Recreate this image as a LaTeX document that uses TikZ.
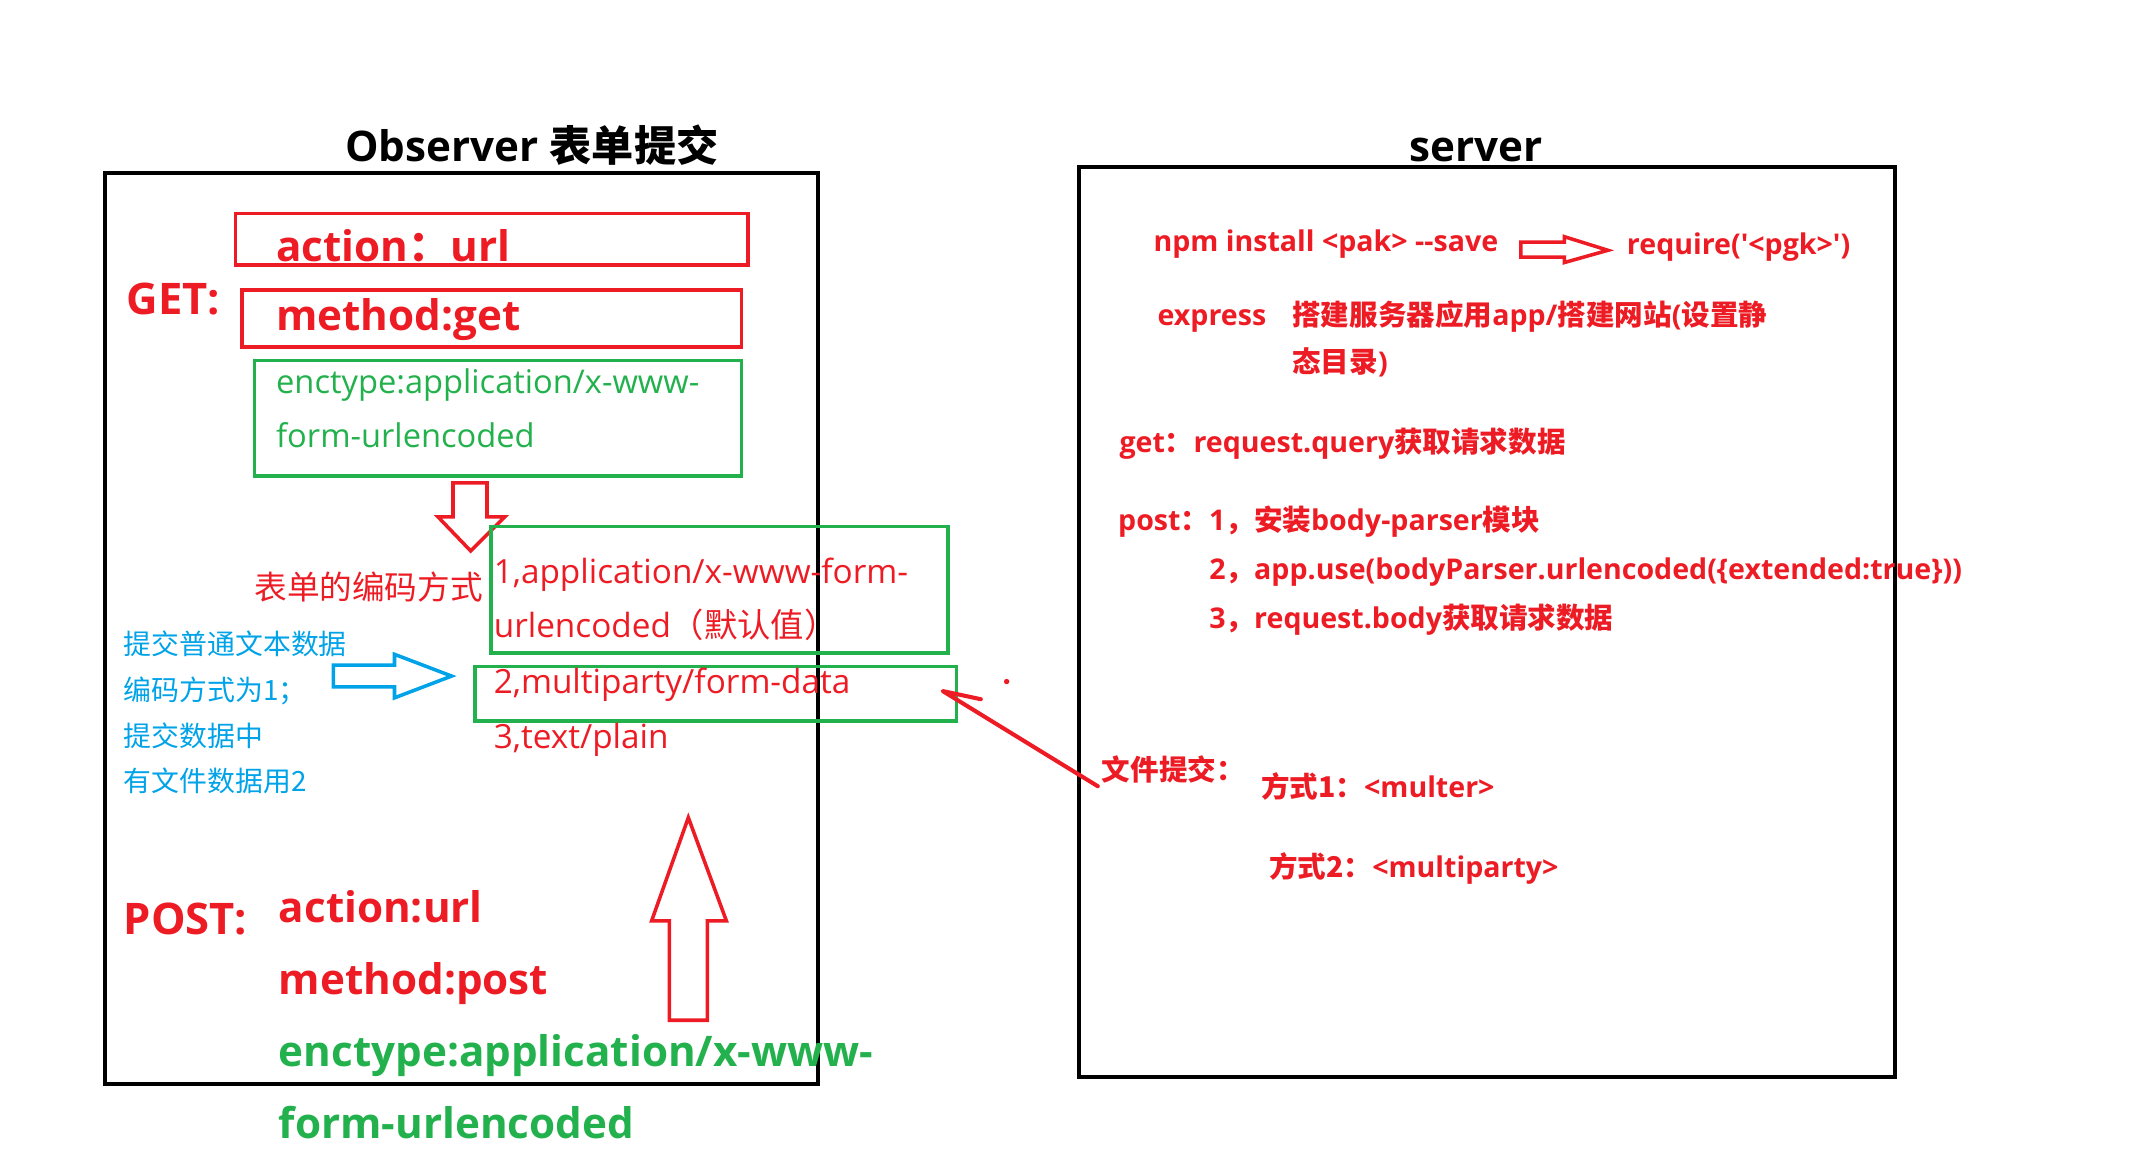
\documentclass[tikz,border=0pt]{standalone}
\usepackage{fontspec}
\newfontfamily\lat{Open Sans}
\newfontfamily\cjk{Noto Sans CJK SC}
\newcommand\zh[1]{{\cjk #1}}
\newcommand\fsz[1]{\fontsize{#1}{#1}\selectfont}
\definecolor{pred}{HTML}{ED1C24}
\definecolor{pgreen}{HTML}{22B14C}
\definecolor{pblue}{HTML}{00A2E8}
\begin{document}
\begin{tikzpicture}[x=1pt,y=-1pt,
  every node/.style={font=\lat},
  lbl/.style={inner sep=0pt, outer sep=0pt, anchor=base west},
  box/.style={draw, anchor=north west, inner sep=0pt, outer sep=0pt, line width=2.6pt},
  bigred/.style={lbl, text=pred, font=\lat\bfseries\fsz{31}},
  biggreen/.style={lbl, text=pgreen, font=\lat\bfseries\fsz{31}},
  midred/.style={lbl, text=pred, font=\lat\fsz{24.5}},
  midgreen/.style={lbl, text=pgreen, font=\lat\fsz{24}},
  bluetxt/.style={lbl, text=pblue, font=\cjk\fsz{20.5}},
  srvtxt/.style={lbl, text=pred, font=\lat\bfseries\fsz{21}},
  blockarrow/.style={line width=2.6pt, line join=miter}
]
\useasboundingbox (0,0) rectangle (1568,858);

% titles
\node[lbl, anchor=base, font=\lat\bfseries\fsz{31}] (obst) at (391,119) {Observer \zh{表单提交}};
\node[lbl, anchor=base, font=\lat\bfseries\fsz{31}] (servt) at (1085,119) {server};

% main frames
\node[box, line width=3pt, minimum width=524pt, minimum height=670pt] (obs) at (77,127) {};
\node[box, line width=3pt, minimum width=600pt, minimum height=669pt] (srv) at (793,123) {};

% GET part
\node[lbl, text=pred, font=\lat\bfseries\fsz{32}] (get) at (93,231) {GET:};
\node[box, draw=pred, minimum width=377pt, minimum height=38pt] (ba) at (173,157) {};
\node[bigred] (bat) at (203,192) {action\zh{：}url};
\node[box, draw=pred, minimum width=367pt, minimum height=42pt] (bb) at (178,213) {};
\node[bigred] (bbt) at (203,243) {method:get};
\node[box, draw=pgreen, minimum width=358pt, minimum height=85pt] (bc) at (187,265) {};
\node[midgreen] (bct1) at (203,289) {enctype:application/x-www-};
\node[midgreen] (bct2) at (203,329) {form-urlencoded};

% down arrow
\draw[pred, blockarrow] (333,355) -- (358,355) -- (358,380) -- (371,380) -- (346,405) -- (322,380) -- (333,380) -- cycle;

% encodings
\node[lbl, text=pred, font=\cjk\fsz{24}] (enc) at (187,441) {表单的编码方式};
\node[box, draw=pgreen, minimum width=336pt, minimum height=93pt] (bd) at (361,387) {};
\node[midred] (bdt1) at (363,429) {1,application/x-www-form-};
\node[midred] (bdt2) at (363,469) {urlencoded\zh{（默认值）}};
\node[box, draw=pgreen, minimum width=354pt, minimum height=40pt] (be) at (349,490) {};
\node[midred] (bet) at (363,510) {2,multiparty/form-data};
\node[midred] (bft) at (363,550) {3,text/plain};

% blue notes
\node[bluetxt] (n1) at (91,481) {提交普通文本数据};
\node[bluetxt] (n2) at (91,515) {编码方式为1；};
\node[bluetxt] (n3) at (91,549) {提交数据中};
\node[bluetxt] (n4) at (91,582) {有文件数据用2};
\draw[pblue, blockarrow] (245,489) -- (290,489) -- (290,481) -- (332,497) -- (290,513) -- (290,505) -- (245,505) -- cycle;

% up arrow
\draw[pred, blockarrow] (492,750) -- (520,750) -- (520,677) -- (534,677) -- (506,601) -- (479,677) -- (492,677) -- cycle;

% POST part
\node[lbl, text=pred, font=\lat\bfseries\fsz{32}] (post) at (91,687) {POST:};
\node[bigred] (pa) at (205,678) {action:url};
\node[bigred] (pm) at (205,731) {method:post};
\node[biggreen] (pe1) at (205,784) {enctype:application/x-www-};
\node[biggreen] (pe2) at (205,837) {form-urlencoded};

% server side
\node[srvtxt] (npm) at (848,185) {npm install <pak> --save};
\draw[pred, blockarrow] (1118,178) -- (1150,178) -- (1150,174) -- (1182,184) -- (1150,193) -- (1150,189) -- (1118,189) -- cycle;
\node[srvtxt] (req) at (1196,187) {require('<pgk>')};
\node[srvtxt] (exp) at (851,239) {express};
\node[srvtxt] (expd1) at (950,239) {\zh{搭建服务器应用}app/\zh{搭建网站}(\zh{设置静}};
\node[srvtxt] (expd2) at (950,274) {\zh{态目录})};
\node[srvtxt] (sget) at (823,333) {get\zh{：}request.query\zh{获取请求数据}};
\node[srvtxt] (spost1) at (822,390) {post\zh{：}1\zh{，安装}body-parser\zh{模块}};
\node[srvtxt] (spost2) at (889,426) {2\zh{，}app.use(bodyParser.urlencoded(\{extended:true\}))};
\node[srvtxt] (spost3) at (889,462) {3\zh{，}request.body\zh{获取请求数据}};

% file submit
\node[srvtxt] (fsub) at (810,574) {\zh{文件提交：}};
\node[srvtxt] (m1) at (927,586) {\zh{方式1：}<multer>};
\node[srvtxt] (m2) at (933,645) {\zh{方式2：}<multiparty>};
\coordinate (ptip) at (693,508);
\coordinate (ptick) at (721,514);
\draw[pred, line width=3pt, line cap=round, line join=round] ([xshift=-3pt,yshift=-2pt]fsub.south west) -- (ptip) -- (ptick);
\fill[pred] (740,501) circle (2pt);
\end{tikzpicture}
\end{document}
